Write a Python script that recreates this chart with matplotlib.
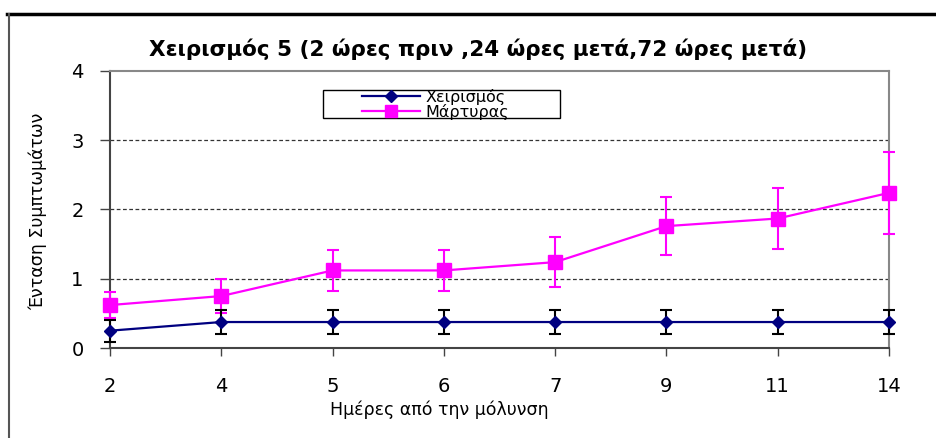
import matplotlib
matplotlib.use("Agg")
import matplotlib.pyplot as plt
from matplotlib.lines import Line2D
from matplotlib.patches import Rectangle

plt.rcParams['font.family'] = ['DejaVu Sans']

days = ['2', '4', '5', '6', '7', '9', '11', '14']
treat = [0.25, 0.375, 0.375, 0.375, 0.375, 0.375, 0.375, 0.375]
treat_err = [0.16, 0.18, 0.18, 0.18, 0.18, 0.18, 0.18, 0.18]
control = [0.62, 0.75, 1.12, 1.12, 1.24, 1.76, 1.87, 2.24]
control_err = [0.19, 0.24, 0.29, 0.29, 0.36, 0.42, 0.44, 0.59]

title = 'Χειρισμός 5 (2 ώρες πριν ,24 ώρες μετά,72 ώρες μετά)'
xlabel = 'Ημέρες από την μόλυνση'
ylabel = 'Ένταση Συμπτωμάτων'
labels = ['Χειρισμός', 'Μάρτυρας']

W, H = 936, 438
fig = plt.figure(figsize=(W / 100, H / 100), dpi=100)
ax = fig.add_axes([110 / W, 1 - 348 / H, (889 - 110) / W, (348 - 71) / H])

navy = '#000080'
magenta = '#FF00FF'
x = list(range(len(days)))
ax.errorbar(x, treat, yerr=treat_err, color=navy, lw=1.6, marker='D', ms=6.5,
            ecolor='black', elinewidth=1.5, capsize=4, capthick=1.5,
            clip_on=False, zorder=4)
ax.errorbar(x, control, yerr=control_err, color=magenta, lw=1.6, marker='s', ms=10.5,
            ecolor=magenta, elinewidth=1.5, capsize=4.5, capthick=1.5,
            clip_on=False, zorder=3)

ax.set_xlim(0, len(days) - 1)
ax.set_ylim(0, 4)
ax.set_xticks(x)
ax.set_xticklabels(days)
ax.set_yticks([0, 1, 2, 3, 4])
ax.tick_params(axis='both', labelsize=14, direction='out', width=1, color='#444444')
ax.tick_params(axis='x', pad=15, length=6)
ax.tick_params(axis='y', pad=12, length=7)
for yv in [1, 2, 3]:
    ax.axhline(yv, color='#333333', lw=0.9, ls=(0, (3, 2)), zorder=1)

for s in ['left', 'bottom']:
    ax.spines[s].set_color('#444444')
    ax.spines[s].set_linewidth(1.5)
for s in ['top', 'right']:
    ax.spines[s].set_color('#888888')
    ax.spines[s].set_linewidth(1.5)

# legend (frame drawn separately to mimic wide padding)
handles = [Line2D([], [], color=navy, lw=1.6, marker='D', ms=6),
           Line2D([], [], color=magenta, lw=1.6, marker='s', ms=9)]
leg = ax.legend(handles, labels, loc='upper left',
                bbox_to_anchor=((362 - 110) / (889 - 110), 1 - (89 - 71) / (348 - 71)),
                fontsize=11.5, frameon=False,
                borderpad=0, handlelength=3.6, handletextpad=0.35, labelspacing=-0.08,
                borderaxespad=0)
leg.set_zorder(6)
ax.add_artist(Rectangle((323 / W, 1 - 118 / H), (560 - 323) / W, (118 - 90) / H,
                        transform=fig.transFigure, fill=True, facecolor='white',
                        edgecolor='black', lw=1, zorder=5, clip_on=False))

fig.text(478 / W, 1 - 49 / H, title, ha='center', va='center', fontsize=15.5, fontweight='bold')
fig.text(439 / W, 1 - 410 / H, xlabel, ha='center', va='center', fontsize=12.5)
fig.text(38 / W, 1 - 211 / H, ylabel, ha='center', va='center', fontsize=12.5, rotation=90)

fig.add_artist(Line2D([7 / W, 1], [1 - 14 / H, 1 - 14 / H], color='black', lw=2.5, transform=fig.transFigure))
fig.add_artist(Line2D([8.5 / W, 8.5 / W], [0, 1 - 14 / H], color='#555555', lw=1.5, transform=fig.transFigure))

fig.savefig('out.png', dpi=100)
